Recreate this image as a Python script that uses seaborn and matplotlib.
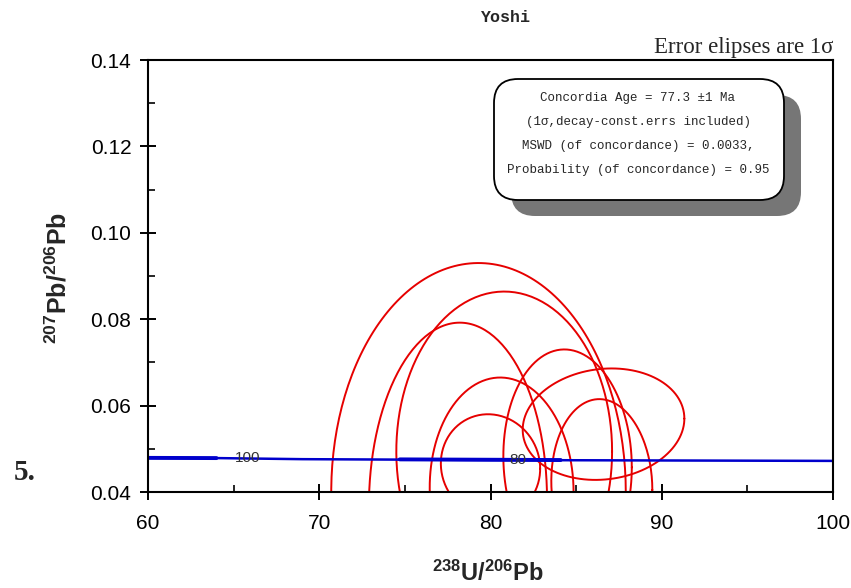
import numpy as np
import pandas as pd
import matplotlib
matplotlib.use("Agg")
import matplotlib.pyplot as plt
from matplotlib.patches import FancyBboxPatch
import seaborn as sns

# ---- data ----
ell_names = ["A", "B", "C", "D", "E", "F", "G", "H"]
ell_cx = [79.3, 80.8, 78.1, 80.65, 80.0, 84.5, 86.6, 86.5]
ell_cy = [0.040, 0.0494, 0.0375, 0.0405, 0.046, 0.047, 0.0557, 0.0415]
ell_sx = [8.6, 6.3, 5.2, 4.2, 2.9, 3.75, 4.72, 2.95]
ell_sy = [0.053, 0.037, 0.0417, 0.026, 0.012, 0.026, 0.0129, 0.020]
ell_rho = [0.0, 0.0, 0.02, -0.02, -0.05, -0.05, 0.10, -0.05]

conc_x = [60, 64, 69, 80, 90, 100]
conc_y = [0.0479, 0.04785, 0.0476, 0.0474, 0.0473, 0.0472]
band_seg1_x = [60, 64]
band_seg1_y = [0.0479, 0.04785]
band_seg2_x = [74.7, 84.1]
band_seg2_y = [0.04755, 0.0474]
age_labels = ["100", "80"]
age_x = [64, 80]
age_y = [0.04785, 0.0474]

xticks = [60, 70, 80, 90, 100]
yticks = [0.04, 0.06, 0.08, 0.10, 0.12, 0.14]
ytick_labels = ["0.04", "0.06", "0.08", "0.10", "0.12", "0.14"]

box_lines = ["Concordia Age = 77.3 \u00b11 Ma",
             "(1\u03c3,decay-const.errs included)",
             "MSWD (of concordance) = 0.0033,",
             "Probability (of concordance) = 0.95"]

RED = "#e60000"
BLUE = "#0000cc"

sns.set_style("ticks")
plt.rcParams["font.family"] = ["Liberation Sans", "DejaVu Sans"]
plt.rcParams["mathtext.fontset"] = "custom"
plt.rcParams["mathtext.rm"] = "Liberation Sans"
plt.rcParams["mathtext.bf"] = "Liberation Sans:bold"
plt.rcParams["mathtext.it"] = "Liberation Sans:italic"

fig = plt.figure(figsize=(8.51, 5.88), dpi=100)
ax = fig.add_axes([148 / 851, 1 - 492 / 588, (833 - 148) / 851, (492 - 60) / 588])

# ellipses
t = np.linspace(0, 2 * np.pi, 240)
rows = []
for n, cx, cy, sx, sy, r in zip(ell_names, ell_cx, ell_cy, ell_sx, ell_sy, ell_rho):
    x = cx + sx * np.cos(t)
    y = cy + sy * (r * np.cos(t) + np.sqrt(1 - r * r) * np.sin(t))
    rows.append(pd.DataFrame({"id": n, "x": x, "y": y}))
df = pd.concat(rows, ignore_index=True)
sns.lineplot(data=df, x="x", y="y", units="id", estimator=None, sort=False,
             color=RED, lw=1.4, ax=ax, legend=False)

# concordia
sns.lineplot(x=conc_x, y=conc_y, color=BLUE, lw=1.8, ax=ax, sort=False)
sns.lineplot(x=band_seg1_x, y=band_seg1_y, color=BLUE, lw=2.8, ax=ax, sort=False)
sns.lineplot(x=band_seg2_x, y=band_seg2_y, color=BLUE, lw=2.8, ax=ax, sort=False)
for lab, ax_, ay in zip(age_labels, age_x, age_y):
    ax.text(ax_ + 1.1, ay, lab, fontsize=11, color="#333333", ha="left", va="center")

ax.set_xlim(60, 100)
ax.set_ylim(0.04, 0.14)
ax.set_xticks(xticks)
ax.set_xticklabels([str(v) for v in xticks])
ax.set_yticks(yticks)
ax.set_yticklabels(ytick_labels)
ax.set_xticks([65, 75, 85, 95], minor=True)
ax.set_yticks([0.05, 0.07, 0.09, 0.11, 0.13], minor=True)
ax.tick_params(which="major", direction="inout", length=12, width=1.4,
               labelsize=15, colors="black")
ax.tick_params(axis="x", which="major", pad=10)
ax.tick_params(axis="y", which="major", pad=6)
ax.tick_params(which="minor", direction="in", length=5, width=1.4)
ax.set_xlabel("")
ax.set_ylabel("")
for s in ax.spines.values():
    s.set_visible(True)
    s.set_linewidth(1.5)
    s.set_color("black")

# axis labels
fig.text(488 / 851, 1 - 573 / 588, r"$\mathbf{^{238}U/^{206}Pb}$", fontsize=17,
         ha="center", va="center")
fig.text(58 / 851, 1 - 278 / 588, r"$\mathbf{^{207}Pb/^{206}Pb}$", fontsize=18,
         ha="center", va="center", rotation=90)

# titles / notes
fig.text(505 / 851, 1 - 18 / 588, "Yoshi", family=["Liberation Mono", "DejaVu Sans Mono"],
         fontweight="bold", fontsize=12, ha="center", va="center")
fig.text(833 / 851, 1 - 48 / 588, "Error elipses are 1\u03c3", family=["Liberation Serif", "DejaVu Serif"],
         fontsize=16.5, ha="right", va="center")
fig.text(25 / 851, 1 - 473 / 588, "5.", family=["Liberation Serif", "DejaVu Serif"],
         fontweight="bold", fontsize=21, ha="center", va="center")

# results box with shadow (inch coordinates)
tr = fig.dpi_scale_trans
bx0, bx1 = 4.94, 7.84
by0, by1 = (588 - 200) / 100, (588 - 79) / 100
shadow = FancyBboxPatch((bx0 + 0.17, by0 - 0.16), bx1 - bx0, by1 - by0,
                        boxstyle="round,pad=0,rounding_size=0.24",
                        transform=tr, facecolor="#767676", edgecolor="none", zorder=5)
box = FancyBboxPatch((bx0, by0), bx1 - bx0, by1 - by0,
                     boxstyle="round,pad=0,rounding_size=0.24",
                     transform=tr, facecolor="white", edgecolor="black", lw=1.3, zorder=6)
fig.add_artist(shadow)
fig.add_artist(box)
line_y = [98, 122, 146, 170]
for txt, yy in zip(box_lines, line_y):
    fig.text(638 / 851, 1 - yy / 588, txt, family=["Liberation Mono", "DejaVu Sans Mono"],
             fontsize=9, ha="center", va="center", zorder=7)

fig.savefig("out.png", dpi=100)
